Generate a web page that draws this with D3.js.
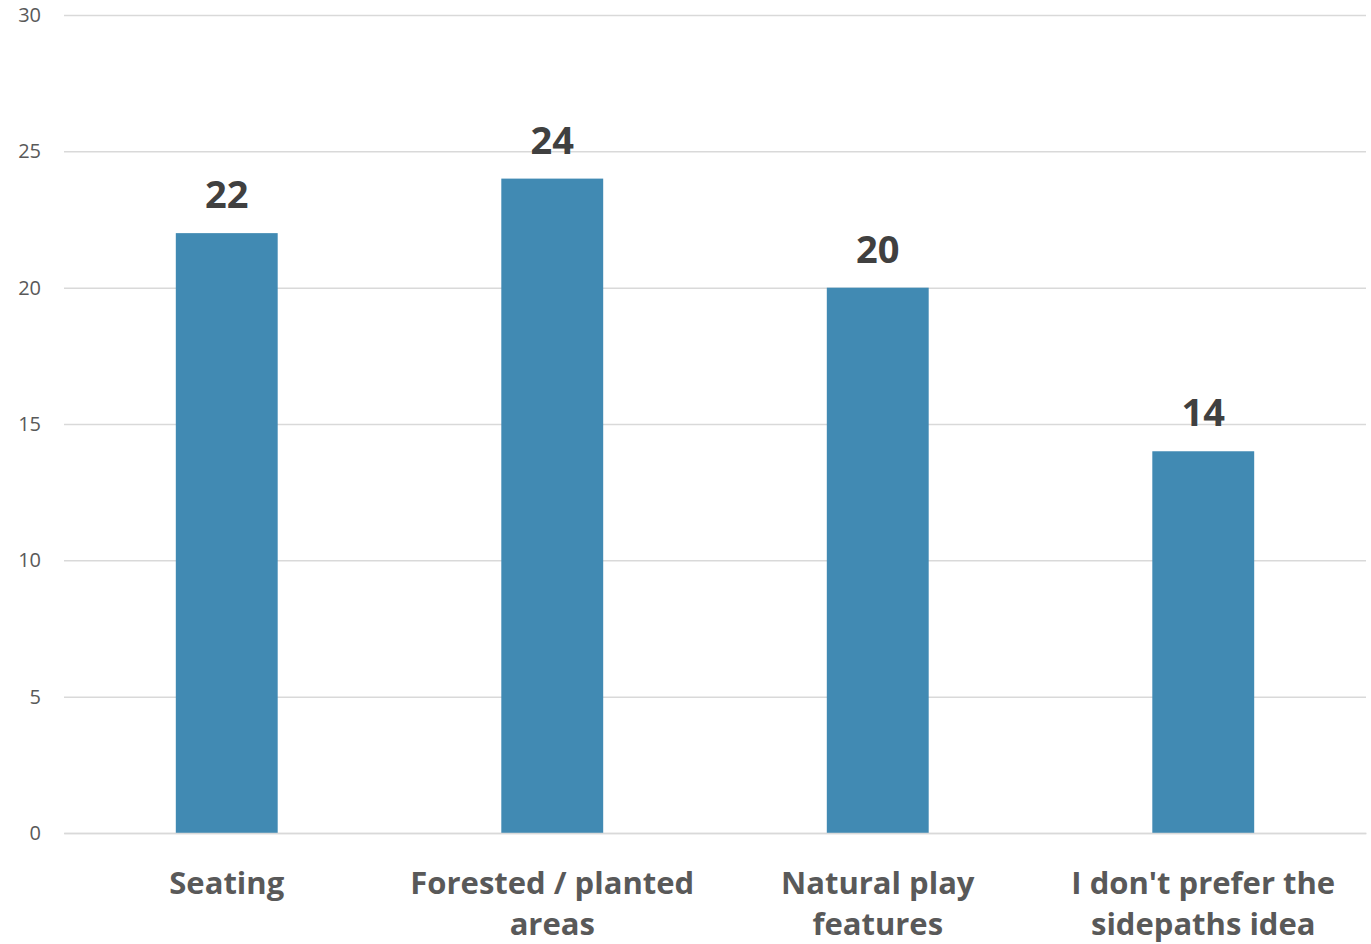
<!DOCTYPE html>
<html><head><meta charset="utf-8">
<script src="https://cdn.jsdelivr.net/npm/d3@7"></script>
<style>body{margin:0;background:#fff}svg{display:block}</style>
</head><body>
<svg id="c" width="1371" height="944"></svg>
<script>
const categories = [["Seating"], ["Forested / planted", "areas"], ["Natural play", "features"], ["I don't prefer the", "sidepaths idea"]];
const values = [22, 24, 20, 14];
const yTicks = [0, 5, 10, 15, 20, 25, 30];

const svg = d3.select("#c");
const m = {left: 64, right: 5, top: 15, bottom: 111};
const W = 1371, H = 944;
const x = d3.scaleBand().domain(d3.range(values.length)).range([m.left, W - m.right]).paddingInner(0.687).paddingOuter(0.3435);
const y = d3.scaleLinear().domain([0, 30]).range([H - m.bottom, m.top]);

const font = "'Open Sans', sans-serif";
const grid = svg.append("g").attr("transform", `translate(${m.left},0)`)
  .call(d3.axisLeft(y).tickValues(yTicks).tickSize(-(W - m.left - m.right)).tickPadding(23).tickFormat(d3.format("d")));
grid.select(".domain").remove();
grid.selectAll(".tick line").attr("stroke", "#d9d9d9").attr("stroke-width", 1.5);
grid.selectAll(".tick text").attr("fill", "#595959").attr("font-family", font).attr("font-size", 20);

svg.append("g").selectAll("rect").data(values).join("rect")
  .attr("x", (d, i) => x(i)).attr("width", x.bandwidth())
  .attr("y", d => y(d)).attr("height", d => y(0) - y(d))
  .attr("fill", "#418ab3");

svg.append("g").selectAll("text").data(values).join("text")
  .attr("x", (d, i) => x(i) + x.bandwidth() / 2).attr("y", d => y(d) - 25)
  .attr("text-anchor", "middle").attr("font-family", font).attr("font-weight", 700)
  .attr("font-size", 38).attr("fill", "#404040").text(d => d);

const xa = svg.append("g").attr("transform", `translate(0,${y(0)})`)
  .call(d3.axisBottom(x).tickSize(0).tickFormat(""));
xa.select(".domain").attr("stroke", "#d9d9d9").attr("stroke-width", 1.5);
xa.selectAll(".tick").each(function(d) {
  const t = d3.select(this).append("text").attr("text-anchor", "middle")
    .attr("font-family", font).attr("font-weight", 700).attr("font-size", 31).attr("fill", "#595959");
  categories[d].forEach((s, k) => t.append("tspan").attr("x", 0).attr("y", 61 + k * 41).text(s));
});
</script>
</body></html>
